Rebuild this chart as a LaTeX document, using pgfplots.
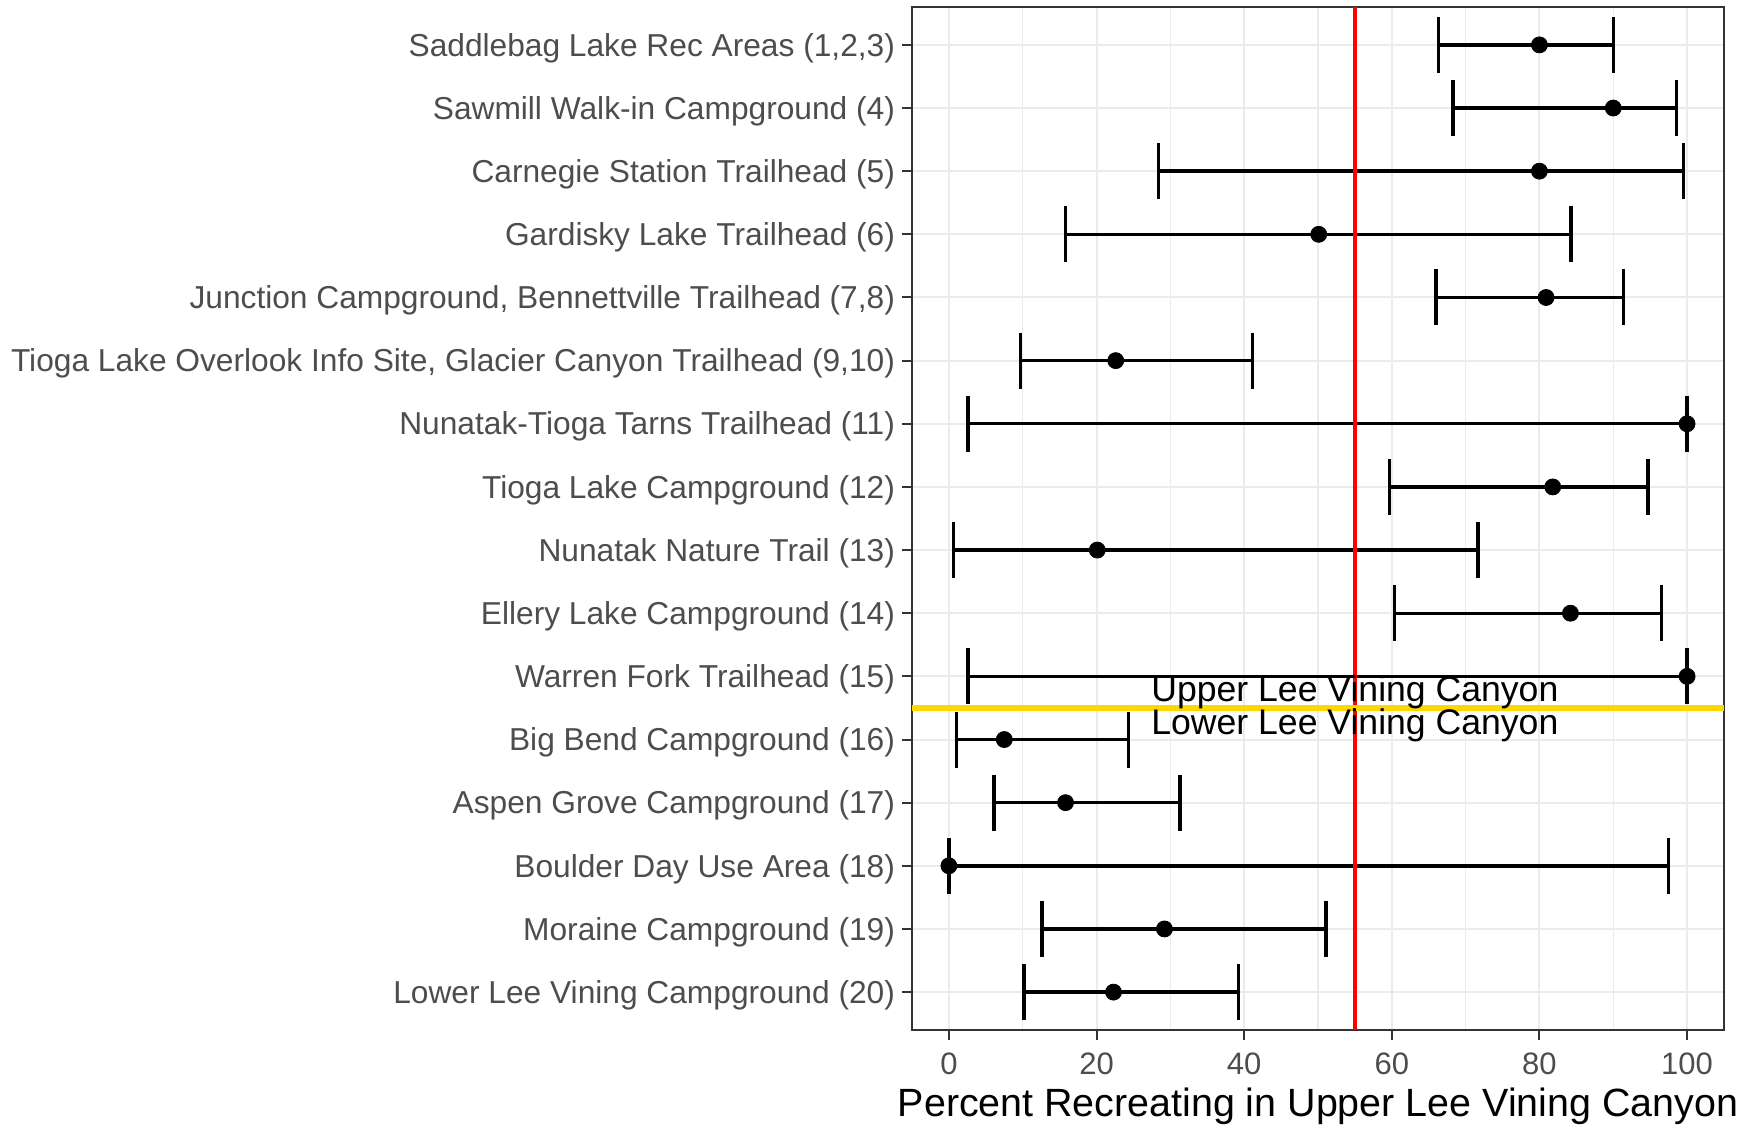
\documentclass[border=0pt]{standalone}
\usepackage{fontspec}
\setmainfont{Liberation Sans}
\usepackage{pgfplots}
\pgfplotsset{compat=1.18}
\usepackage{pgfplotstable}
\definecolor{grey20}{HTML}{333333}
\definecolor{grey30}{HTML}{4D4D4D}
\definecolor{grey92}{HTML}{EBEBEB}
\definecolor{gold}{HTML}{FFD700}

\pgfplotstableread{
y x lo hi
16 80.0 66.3 90.0
15 90.0 68.3 98.6
14 80.0 28.4 99.5
13 50.1 15.8 84.3
12 80.9 66.0 91.4
11 22.6 9.7 41.1
10 100.0 2.6 100.0
9 81.8 59.7 94.7
8 20.1 0.6 71.7
7 84.2 60.4 96.5
6 100.0 2.6 100.0
5 7.5 1.0 24.3
4 15.8 6.1 31.3
3 0.0 0.0 97.5
2 29.2 12.6 51.1
1 22.3 10.2 39.2
}\data

\begin{document}
\begin{tikzpicture}
\path[use as bounding box] (-456bp,-47.5bp) rectangle (420bp,515bp);
\begin{axis}[
  at={(0,0)}, anchor=south west,
  scale only axis, width=406bp, height=511.5bp,
  xmin=-5, xmax=105, ymin=0.4, ymax=16.6,
  xtick={0,20,...,100}, minor xtick={10,30,50,70,90},
  ytick={1,...,16},
  yticklabels={Lower Lee Vining Campground (20), Moraine Campground (19), Boulder Day Use Area (18), Aspen Grove Campground (17), Big Bend Campground (16), Warren Fork Trailhead (15), Ellery Lake Campground (14), Nunatak Nature Trail (13), Tioga Lake Campground (12), Nunatak-Tioga Tarns Trailhead (11), {Tioga Lake Overlook Info Site, Glacier Canyon Trailhead (9,10)}, {Junction Campground, Bennettville Trailhead (7,8)}, Gardisky Lake Trailhead (6), Carnegie Station Trailhead (5), Sawmill Walk-in Campground (4), {Saddlebag Lake Rec Areas (1,2,3)}},
  xmajorgrids, xminorgrids, ymajorgrids,
  major grid style={grey92, line width=1bp},
  minor grid style={grey92, line width=0.6bp},
  minor tick length=0pt,
  major tick length=5bp,
  tick align=outside,
  xtick pos=bottom, ytick pos=left,
  tick style={grey20, line width=1bp},
  axis line style={grey20, line width=0.8bp},
  /pgf/number format/assume math mode=true,
  xticklabel style={font=\fontsize{15.5bp}{18bp}\selectfont, text=grey30, inner sep=0pt, anchor=north, yshift=-6.3bp},
  yticklabel style={font=\fontsize{15.85bp}{18bp}\selectfont, text=grey30, inner sep=0pt, anchor=base east, xshift=-3.3bp, yshift=-5.6bp},
  xlabel={Percent Recreating in Upper Lee Vining Canyon},
  xlabel style={at={(axis description cs:0.5,0)}, anchor=base, yshift=-43bp, font=\fontsize{19.7bp}{22bp}\selectfont, text=black, inner sep=0pt},
]
% horizontal error segments (no caps)
\addplot[black, only marks, mark=none,
  error bars/.cd, x dir=both, x explicit, error mark=none,
  error bar style={line width=1.7bp, black}]
  table[x=x, y=y, x error plus expr=\thisrow{hi}-\thisrow{x}, x error minus expr=\thisrow{x}-\thisrow{lo}] {\data};
% caps at lower and upper ends
\addplot[black, only marks, mark=|, mark size=14bp, mark options={line width=1.7bp}] table[x=lo, y=y] {\data};
\addplot[black, only marks, mark=|, mark size=14bp, mark options={line width=1.7bp}] table[x=hi, y=y] {\data};
% point estimates
\addplot[black, only marks, mark=*, mark size=4bp, mark options={black, fill=black}] table[x=x, y=y] {\data};
\addplot[red, line width=1.6bp] coordinates {(55,0.4) (55,16.6)};
\addplot[gold, line width=3bp] coordinates {(-5,5.5) (105,5.5)};
\node[anchor=base, font=\fontsize{17.8bp}{20bp}\selectfont, inner sep=0pt, yshift=3.2bp] at (axis cs:55,5.5) {Upper Lee Vining Canyon};
\node[anchor=base, font=\fontsize{17.8bp}{20bp}\selectfont, inner sep=0pt, yshift=-13.3bp] at (axis cs:55,5.5) {Lower Lee Vining Canyon};
\end{axis}
\end{tikzpicture}
\end{document}
